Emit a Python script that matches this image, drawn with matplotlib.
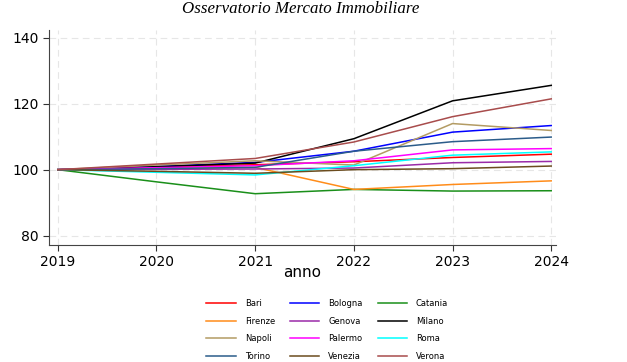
import matplotlib.pyplot as plt
from matplotlib.lines import Line2D

# dati (indice 2019 = 100)
anni = [2019, 2020, 2021, 2022, 2023, 2024]
citta = ["Bari", "Bologna", "Catania", "Firenze", "Genova", "Milano",
         "Napoli", "Palermo", "Roma", "Torino", "Venezia", "Verona"]
bari = [100, 100.8, 101.5, 102.4, 103.7, 104.7]
bologna = [100, 101.0, 102.2, 105.6, 111.4, 113.4]
catania = [100, 96.3, 92.7, 94.0, 93.5, 93.6]
firenze = [100, 100.3, 100.7, 94.0, 95.5, 96.6]
genova = [100, 100.1, 100.2, 100.5, 102.1, 102.5]
milano = [100, 100.9, 102.0, 109.4, 120.9, 125.6]
napoli = [100, 101.4, 102.7, 101.4, 114.0, 111.9]
palermo = [100, 100.6, 101.2, 102.7, 106.0, 106.4]
roma = [100, 99.2, 98.4, 101.2, 104.4, 105.4]
torino = [100, 100.3, 100.7, 105.6, 108.5, 109.9]
venezia = [100, 99.5, 98.9, 100.0, 100.3, 101.1]
verona = [100, 101.7, 103.4, 108.4, 116.1, 121.5]
serie = [bari, bologna, catania, firenze, genova, milano,
         napoli, palermo, roma, torino, venezia, verona]
colori = ["#ff0000", "#0000ff", "#1a8f1a", "#ff8c1a", "#9a2aa8", "#000000",
          "#b39b63", "#ff00ff", "#00ffff", "#2b5c8a", "#6b4c1e", "#a84c4c"]

fig = plt.figure(figsize=(6.27, 3.62), dpi=100)
ax = fig.add_axes([0.078, 0.323, 0.809, 0.594])

for nome, val, col in zip(citta, serie, colori):
    ax.plot(anni, val, color=col, lw=1.1, label=nome)

ax.set_xlim(2018.91, 2024.05)
ax.set_ylim(77.1, 142.4)
ax.set_xticks(anni)
ax.set_yticks([80, 100, 120, 140])
ax.tick_params(labelsize=10, color="#333333", length=4)
ax.grid(True, color="#e6e6e6", ls=(0, (6, 4)), lw=0.8)
for s in ["top", "right"]:
    ax.spines[s].set_visible(False)
for s in ["left", "bottom"]:
    ax.spines[s].set_color("#444444")
ax.set_xlabel("anno", fontsize=11, labelpad=-3)

fig.suptitle("Osservatorio Mercato Immobiliare", fontsize=12.2, style="italic",
             family="Liberation Serif", x=0.479, y=0.998)

# legenda riga per riga (matplotlib riempie per colonne)
ordine = [0, 3, 6, 9, 1, 4, 7, 10, 2, 5, 8, 11]
handles = [Line2D([], [], color=colori[i], lw=1.1) for i in ordine]
labels = [citta[i] for i in ordine]
fig.legend(handles, labels, ncol=3, loc="upper center",
           bbox_to_anchor=(0.522, 0.195), frameon=False, fontsize=6,
           handlelength=3.5, handletextpad=1.1, columnspacing=1.8,
           labelspacing=1.05)

fig.savefig("out.png", dpi=100)
